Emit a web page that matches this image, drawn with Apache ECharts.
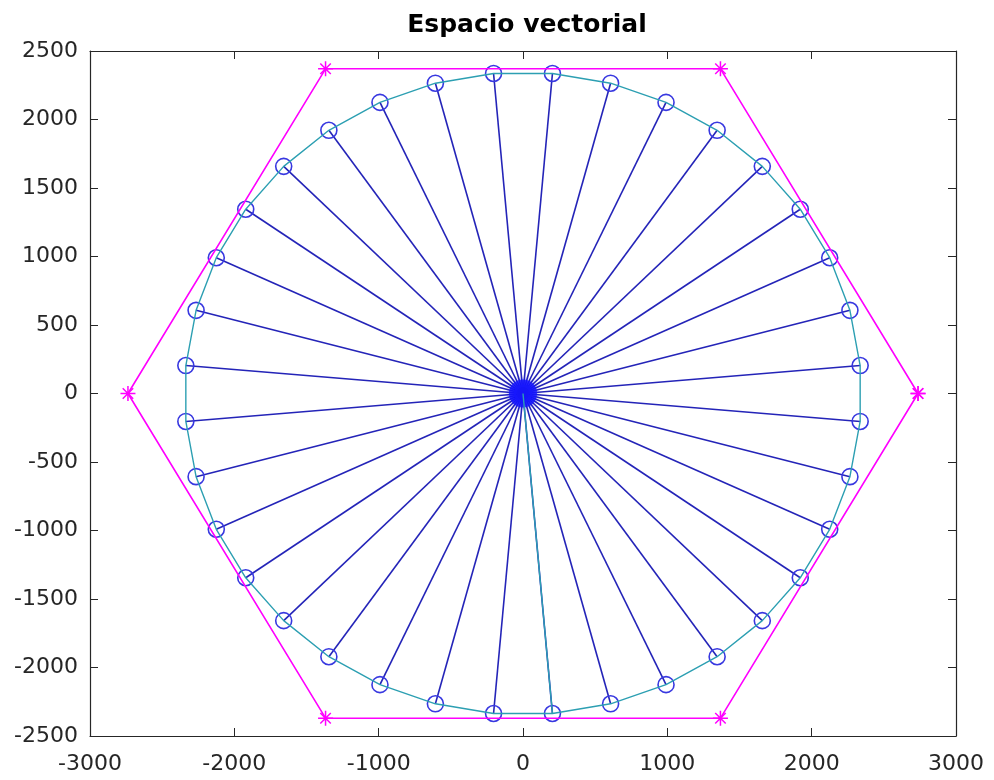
<!DOCTYPE html>
<html>
<head>
<meta charset="utf-8">
<script src="https://cdn.jsdelivr.net/npm/echarts@6/dist/echarts.min.js"></script>
<style>
  html, body { margin: 0; padding: 0; background: #fff; }
  #chart { width: 994px; height: 780px; }
</style>
</head>
<body>
<div id="chart"></div>
<script>
// Tips of the 36 vectors (every 10 degrees, starting at 5 degrees)
const tipX = [2336, 2265, 2125, 1921, 1658, 1345, 991, 607, 204,
              -204, -607, -991, -1345, -1658, -1921, -2125, -2265, -2336,
              -2336, -2265, -2125, -1921, -1658, -1345, -991, -607, -204,
              204, 607, 991, 1345, 1658, 1921, 2125, 2265, 2336];
const tipY = [204, 607, 991, 1345, 1658, 1921, 2125, 2265, 2336,
              2336, 2265, 2125, 1921, 1658, 1345, 991, 607, 204,
              -204, -607, -991, -1345, -1658, -1921, -2125, -2265, -2336,
              -2336, -2265, -2125, -1921, -1658, -1345, -991, -607, -204];

// Hexagon vertices (closed)
const hexX = [2737, 1368, -1368, -2737, -1368, 1368, 2737];
const hexY = [0, 2370, 2370, 0, -2370, -2370, 0];

// Origin of every vector
const originX = 0;
const originY = 0;

// Axis ticks
const xTicks = { min: -3000, max: 3000, step: 1000 };
const yTicks = { min: -2500, max: 2500, step: 500 };

const titleText = 'Espacio vectorial';

const BLUE_LINE = '#2424b8';
const BLUE_MARK = '#3838e0';
const BLUE_HUB = '#1414ff';
const CYAN = '#2c9fb2';
const MAGENTA = '#ff00ff';
const AXIS = '#262626';
const FONT = 'DejaVu Sans';

// asterisk marker built from four thin bars
const STAR = 'path://M0 9 L20 9 L20 11 L0 11 Z M9 0 L11 0 L11 20 L9 20 Z ' +
  'M2.3 3.7 L3.7 2.3 L17.7 16.3 L16.3 17.7 Z M16.3 2.3 L17.7 3.7 L3.7 17.7 L2.3 16.3 Z';

const series = [];

// vectors from the origin to each tip, with circle markers
for (let i = 0; i < tipX.length; i++) {
  series.push({
    type: 'line',
    data: [[originX, originY], [tipX[i], tipY[i]]],
    symbol: 'circle',
    symbolSize: 16,
    showSymbol: true,
    lineStyle: { color: BLUE_LINE, width: 1.6 },
    itemStyle: { color: 'rgba(0,0,0,0)', borderColor: BLUE_MARK, borderWidth: 1.6 },
    z: 2,
    silent: true,
    animation: false
  });
}

// the stacked origin markers merge into one solid hub
series.push({
  type: 'scatter',
  data: [[originX, originY]],
  symbol: 'circle',
  symbolSize: 28,
  itemStyle: { color: BLUE_HUB, shadowBlur: 5, shadowColor: 'rgba(20,20,255,0.6)' },
  z: 3,
  silent: true,
  animation: false
});

// cyan path: from the origin down to the 275-degree tip, then all the way round
const start = 27;
const ring = [[originX, originY]];
for (let k = 0; k <= tipX.length; k++) {
  const j = (start + k) % tipX.length;
  ring.push([tipX[j], tipY[j]]);
}
series.push({
  type: 'line',
  data: ring,
  symbol: 'none',
  lineStyle: { color: CYAN, width: 1.4 },
  z: 4,
  silent: true,
  animation: false
});

// hexagon
series.push({
  type: 'line',
  data: hexX.map((x, i) => [x, hexY[i]]),
  symbol: STAR,
  symbolSize: 15,
  showSymbol: true,
  lineStyle: { color: MAGENTA, width: 1.6 },
  itemStyle: { color: MAGENTA },
  z: 5,
  silent: true,
  animation: false
});

const tickStyle = { inside: true, length: 8, lineStyle: { color: AXIS, width: 1 } };
const lineStyle = { show: true, onZero: false, lineStyle: { color: AXIS, width: 1.2 } };
const plain = v => String(v);

const chart = echarts.init(document.getElementById('chart'), null, { renderer: 'canvas' });
chart.setOption({
  backgroundColor: '#ffffff',
  animation: false,
  title: {
    text: titleText,
    left: 522,
    textAlign: 'center',
    top: 8,
    textStyle: { fontFamily: FONT, fontSize: 25, fontWeight: 'bold', color: '#000' }
  },
  grid: { left: 90, right: 38, top: 51, bottom: 44, containLabel: false },
  xAxis: [
    {
      type: 'value', min: xTicks.min, max: xTicks.max, interval: xTicks.step,
      position: 'bottom',
      axisLine: lineStyle, axisTick: tickStyle, splitLine: { show: false },
      axisLabel: { fontFamily: FONT, fontSize: 22, color: AXIS, margin: 17, formatter: plain }
    },
    {
      type: 'value', min: xTicks.min, max: xTicks.max, interval: xTicks.step,
      position: 'top',
      axisLine: lineStyle, axisTick: tickStyle, splitLine: { show: false },
      axisLabel: { show: false }
    }
  ],
  yAxis: [
    {
      type: 'value', min: yTicks.min, max: yTicks.max, interval: yTicks.step,
      position: 'left',
      axisLine: lineStyle, axisTick: tickStyle, splitLine: { show: false },
      axisLabel: { fontFamily: FONT, fontSize: 22, color: AXIS, margin: 12, formatter: plain }
    },
    {
      type: 'value', min: yTicks.min, max: yTicks.max, interval: yTicks.step,
      position: 'right',
      axisLine: lineStyle, axisTick: tickStyle, splitLine: { show: false },
      axisLabel: { show: false }
    }
  ],
  series: series
});
</script>
</body>
</html>
